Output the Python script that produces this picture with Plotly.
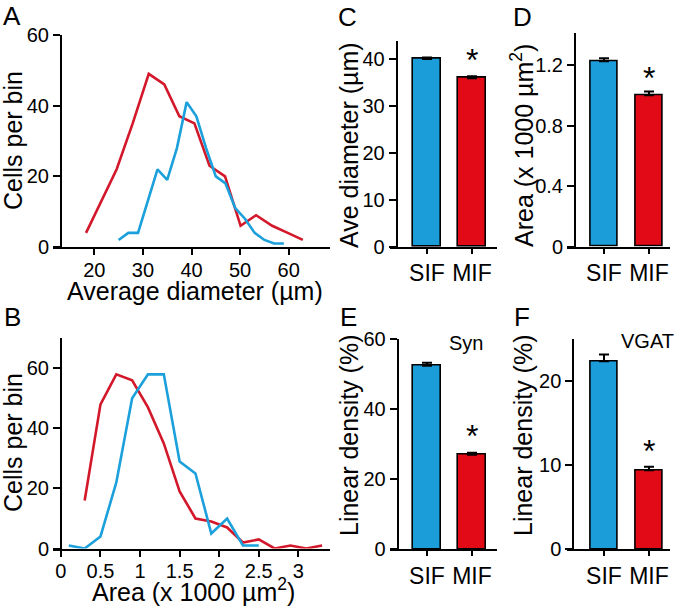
import plotly.graph_objects as go

W, H = 677, 606

# ---------------- data ----------------
diam_mif_x = [18.3, 21.5, 24.6, 27.9, 31.2, 34.4, 37.5, 40.6, 43.7, 46.9, 50.1, 53.3, 56.6, 59.8, 62.9]
diam_mif_y = [4, 13, 22, 35, 49, 46, 37, 35, 23, 20, 6, 9, 6, 4, 2]
diam_sif_x = [25, 27, 29, 31, 33, 35, 37, 39, 41, 43, 45, 47, 49, 51, 53, 55, 57, 59]
diam_sif_y = [2, 4, 4, 13, 22, 19, 28, 41, 37, 28, 20, 18, 11, 8, 4, 2, 1, 1]

area_mif_x = [0.3, 0.5, 0.7, 0.9, 1.1, 1.3, 1.5, 1.7, 1.9, 2.1, 2.3, 2.5, 2.7, 2.9, 3.1, 3.3]
area_mif_y = [16, 48, 58, 56, 47, 35, 19, 10, 9, 7, 2, 3, 0, 1, 0, 1]
area_sif_x = [0.1, 0.3, 0.5, 0.7, 0.9, 1.1, 1.3, 1.5, 1.7, 1.9, 2.1, 2.3, 2.5]
area_sif_y = [1, 0, 4, 22, 50, 58, 58, 29, 25, 5, 10, 1, 1]

groups = ["SIF", "MIF"]
ave_diam = [40.1, 36.0]
ave_diam_err = [0.3, 0.4]
area_mean = [1.225, 1.0]
area_err = [0.02, 0.025]
syn_density = [52.3, 26.9]
syn_err = [0.9, 0.6]
vgat_density = [22.4, 9.4]
vgat_err = [0.8, 0.4]

# ---------------- style ----------------
BLUE_LINE = "#1BA0DB"
RED_LINE = "#D2182A"
BLUE_BAR = "#1B9DD9"
RED_BAR = "#E30A17"
FONT = "Liberation Sans, Arial, Helvetica, sans-serif"
TICK_SIZE = 20
CAT_SIZE = 23
TITLE_SIZE = 25
LETTER_SIZE = 26


def px_x(p):
    return p / W


def px_y(p):
    return 1 - p / H


fig = go.Figure()

# Panel A
fig.add_trace(go.Scatter(x=diam_mif_x, y=diam_mif_y, mode="lines",
                         line=dict(color=RED_LINE, width=2.6), xaxis="x", yaxis="y"))
fig.add_trace(go.Scatter(x=diam_sif_x, y=diam_sif_y, mode="lines",
                         line=dict(color=BLUE_LINE, width=2.6), xaxis="x", yaxis="y"))
# Panel B
fig.add_trace(go.Scatter(x=area_mif_x, y=area_mif_y, mode="lines",
                         line=dict(color=RED_LINE, width=2.6), xaxis="x2", yaxis="y2"))
fig.add_trace(go.Scatter(x=area_sif_x, y=area_sif_y, mode="lines",
                         line=dict(color=BLUE_LINE, width=2.6), xaxis="x2", yaxis="y2"))

bar_sets = [
    (ave_diam, ave_diam_err, "x3", "y3"),
    (area_mean, area_err, "x4", "y4"),
    (syn_density, syn_err, "x5", "y5"),
    (vgat_density, vgat_err, "x6", "y6"),
]
for vals, errs, xa, ya in bar_sets:
    fig.add_trace(go.Bar(
        x=[0, 1], y=vals, width=0.61,
        marker=dict(color=[BLUE_BAR, RED_BAR], line=dict(color="black", width=1.6)),
        error_y=dict(type="data", array=errs, arrayminus=[0, 0], symmetric=False,
                     color="black", thickness=2, width=5),
        xaxis=xa, yaxis=ya))

axis_common = dict(showline=True, linecolor="black", linewidth=2, ticks="outside",
                   tickcolor="black", tickwidth=2, showgrid=False, zeroline=False,
                   automargin=False,
                   tickfont=dict(family=FONT, size=TICK_SIZE, color="black"))

layout = dict(
    width=W, height=H, margin=dict(l=0, r=0, t=0, b=0, pad=0, autoexpand=False),
    paper_bgcolor="white", plot_bgcolor="white", showlegend=False,
    font=dict(family=FONT, color="black"), bargap=0,
)

# Panel A axes
layout["xaxis"] = dict(axis_common, domain=[px_x(53), px_x(330)], range=[11.5, 68.5],
                       tickvals=[20, 30, 40, 50, 60], ticklen=6, ticklabelstandoff=-2, anchor="y")
layout["yaxis"] = dict(axis_common, domain=[px_y(247), px_y(35)], range=[0, 60],
                       tickvals=[0, 20, 40, 60], ticklen=7, anchor="free", position=px_x(61))
# Panel B axes
layout["xaxis2"] = dict(axis_common, domain=[px_x(53), px_x(330)], range=[-0.1, 3.4],
                        tickvals=[0, 0.5, 1, 1.5, 2, 2.5, 3],
                        ticktext=["0", "0.5", "1", "1.5", "2", "2.5", "3"], ticklen=6,
                        ticklabelstandoff=-3, anchor="y2")
layout["yaxis2"] = dict(axis_common, domain=[px_y(548.5), px_y(338.3)], range=[0, 70],
                        tickvals=[0, 20, 40, 60], ticklen=7, anchor="free", position=px_x(61))

cat_font = dict(family=FONT, size=CAT_SIZE, color="black")
# Panel C
layout["xaxis3"] = dict(axis_common, domain=[px_x(390), px_x(497)], range=[-0.822, 1.556],
                        tickvals=[0, 1], ticktext=groups, ticklen=5, tickfont=cat_font, anchor="y3")
layout["yaxis3"] = dict(axis_common, domain=[px_y(246.7), px_y(40.7)], range=[0, 44],
                        tickvals=[0, 10, 20, 30, 40], ticklen=7, anchor="free", position=px_x(396.7))
# Panel D
layout["xaxis4"] = dict(axis_common, domain=[px_x(566.7), px_x(670)], range=[-0.829, 1.467],
                        tickvals=[0, 1], ticktext=groups, ticklen=5, tickfont=cat_font, anchor="y4")
layout["yaxis4"] = dict(axis_common, domain=[px_y(246.7), px_y(33.3)], range=[0, 1.41],
                        tickvals=[0, 0.4, 0.8, 1.2], ticktext=["0", "0.4", "0.8", "1.2"],
                        ticklen=7, anchor="free", position=px_x(575))
# Panel E
layout["xaxis5"] = dict(axis_common, domain=[px_x(390), px_x(497)], range=[-0.822, 1.556],
                        tickvals=[0, 1], ticktext=groups, ticklen=5, tickfont=cat_font, anchor="y5")
layout["yaxis5"] = dict(axis_common, domain=[px_y(549), px_y(338.5)], range=[0, 60.1],
                        tickvals=[0, 20, 40, 60], ticklen=7, anchor="free", position=px_x(397.7))
# Panel F
layout["xaxis6"] = dict(axis_common, domain=[px_x(566.7), px_x(670)], range=[-0.829, 1.467],
                        tickvals=[0, 1], ticktext=groups, ticklen=5, tickfont=cat_font, anchor="y6")
layout["yaxis6"] = dict(axis_common, domain=[px_y(549), px_y(338.5)], range=[0, 25.1],
                        tickvals=[0, 10, 20], ticklen=7, anchor="free", position=px_x(573.3))

fig.update_layout(**layout)

ann = []


def paper_text(text, x, y, size, angle=0):
    ann.append(dict(text=text, x=px_x(x), y=px_y(y), xref="paper", yref="paper",
                    xanchor="center", yanchor="middle", showarrow=False, textangle=angle,
                    font=dict(family=FONT, size=size, color="black")))


# panel letters
for letter, x, y in [("A", 12, 16), ("B", 12, 317), ("C", 347, 17),
                     ("D", 522, 17), ("E", 348, 317), ("F", 522, 317)]:
    paper_text(letter, x, y, LETTER_SIZE)

# axis titles
paper_text("Cells per bin", 13, 141, TITLE_SIZE, -90)
paper_text("Average diameter (µm)", 195, 291, TITLE_SIZE)
paper_text("Cells per bin", 13, 443, TITLE_SIZE, -90)
paper_text("Area (x 1000 µm<sup>2</sup>)", 193, 590, TITLE_SIZE)
paper_text("Ave diameter (µm)", 349, 145, TITLE_SIZE, -90)
paper_text("Area (x 1000 µm<sup>2</sup>)", 522, 146, TITLE_SIZE, -90)
paper_text("Linear density (%)", 349, 436, TITLE_SIZE, -90)
paper_text("Linear density (%)", 523, 436, TITLE_SIZE, -90)

# inset labels
paper_text("Syn", 466, 343, 20)
paper_text("VGAT", 647, 341, 20)

# significance asterisks
for xa, ya, yv in [("x3", "y3", 41.1), ("x4", "y4", 1.156), ("x5", "y5", 34.0), ("x6", "y6", 12.4)]:
    ann.append(dict(text="*", x=1, y=yv, xref=xa, yref=ya, xanchor="center", yanchor="middle",
                    showarrow=False, yshift=-6, font=dict(family=FONT, size=32, color="black")))

fig.update_layout(annotations=ann)
fig.write_html("out.html", config={"displayModeBar": False},
               post_script="document.body.style.margin='0';document.body.style.padding='0';")
